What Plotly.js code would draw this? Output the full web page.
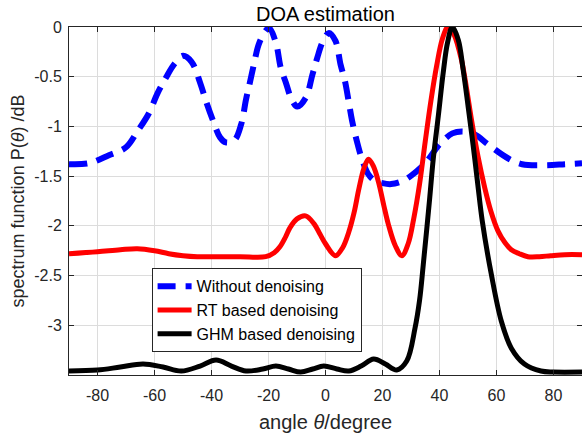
<!DOCTYPE html>
<html>
<head>
<meta charset="utf-8">
<script src="https://cdn.plot.ly/plotly-3.0.1.min.js"></script>
<style>html,body{margin:0;padding:0;background:#fff;}#chart{width:582px;height:436px;}</style>
</head>
<body>
<div id="chart"></div>
<script>
// Without denoising (blue dashed)
const blueX = [-90,-83,-76,-70,-66,-62,-59,-56,-53,-50,-47,-44,-42,-39.5,-37,-35,-32,-29.6,-27.9,-26.7,-25,-23.5,-21.5,-19.8,-17.4,-15.7,-13.9,-12,-9.9,-6.9,-4.6,-2.9,-1,1.2,3.5,5.3,6.8,8.2,9.3,11.1,12.8,15,17,20,23,27,30.3,35,40,44.5,48,52.4,57,64,69,77,84,90];
const blueY = [-1.38,-1.37,-1.29,-1.21,-1.05,-0.87,-0.67,-0.51,-0.37,-0.29,-0.35,-0.56,-0.74,-0.94,-1.11,-1.16,-1.14,-0.98,-0.73,-0.58,-0.36,-0.18,-0.06,-0.01,-0.16,-0.41,-0.56,-0.72,-0.80,-0.71,-0.48,-0.31,-0.15,-0.06,-0.14,-0.38,-0.54,-0.76,-0.94,-1.16,-1.33,-1.48,-1.54,-1.57,-1.58,-1.55,-1.49,-1.37,-1.18,-1.07,-1.05,-1.08,-1.18,-1.32,-1.38,-1.39,-1.38,-1.37];
// RT based denoising (red)
const redX = [-90,-80,-72,-66,-60,-55,-50,-45,-40,-30,-21,-18,-16,-14,-12.5,-10,-7,-4,-2,0,3.5,6,8.2,10,11.7,13.5,15.1,16.8,18.6,20.5,22.1,24.5,26.8,29,31,33,35,37,39,41,43,45,47.7,49.5,51.2,53.5,55.9,58,60.5,63,65.2,68,71,75,79,84,90];
const redY = [-2.28,-2.26,-2.24,-2.23,-2.25,-2.28,-2.30,-2.31,-2.31,-2.31,-2.31,-2.27,-2.21,-2.11,-2.02,-1.93,-1.90,-1.98,-2.08,-2.18,-2.30,-2.22,-2.06,-1.87,-1.63,-1.42,-1.33,-1.40,-1.56,-1.80,-1.99,-2.20,-2.30,-2.18,-1.92,-1.58,-1.15,-0.74,-0.39,-0.12,0,-0.07,-0.33,-0.62,-0.93,-1.30,-1.62,-1.85,-2.05,-2.17,-2.24,-2.28,-2.31,-2.31,-2.30,-2.29,-2.29];
// GHM based denoising (black)
const blackX = [-90,-80,-72,-64,-57,-50.6,-44,-38.4,-33,-27.9,-22,-17.4,-13,-8.7,-4.5,-0.6,4,8.2,12.5,16.9,21,25,28.5,31.4,33,34.3,36.5,37.8,39.6,41.3,42.8,44.5,46.6,48.3,50,51.8,53.5,55,58.2,61.7,65.2,69.8,75.6,80,90];
const blackY = [-3.46,-3.45,-3.42,-3.39,-3.42,-3.46,-3.41,-3.35,-3.41,-3.46,-3.44,-3.41,-3.44,-3.47,-3.44,-3.41,-3.44,-3.46,-3.41,-3.34,-3.39,-3.45,-3.36,-3.03,-2.75,-2.39,-1.74,-1.33,-0.89,-0.46,-0.16,0,-0.13,-0.43,-0.79,-1.19,-1.60,-1.95,-2.49,-2.96,-3.23,-3.39,-3.46,-3.47,-3.47];

const seriesNames = ['Without denoising','RT based denoising','GHM based denoising'];
const xTicks = [-80,-60,-40,-20,0,20,40,60,80];
const xTickText = ['-80','-60','-40','-20','0','20','40','60','80'];
const yTicks = [0,-0.5,-1,-1.5,-2,-2.5,-3];
const yTickText = ['0','-0.5','-1','-1.5','-2','-2.5','-3'];

const font = 'Liberation Sans, Arial, Helvetica, sans-serif';
const traces = [
  {x: blueX, y: blueY, name: seriesNames[0], mode: 'lines', line: {color: '#0000ff', width: 6, dash: '18px,10px', shape: 'spline', smoothing: 1}},
  {x: redX, y: redY, name: seriesNames[1], mode: 'lines', line: {color: '#ff0000', width: 5, shape: 'spline', smoothing: 1}},
  {x: blackX, y: blackY, name: seriesNames[2], mode: 'lines', line: {color: '#000000', width: 5, shape: 'spline', smoothing: 1}}
];
const axisCommon = {
  showline: true, mirror: 'ticks', linecolor: '#262626', linewidth: 1,
  ticks: 'inside', ticklen: 5, tickcolor: '#262626',
  showgrid: true, gridcolor: '#dcdcdc', gridwidth: 1, zeroline: false,
  tickfont: {family: font, size: 16, color: '#262626'}
};
const layout = {
  width: 582, height: 436,
  margin: {l: 69, r: 0, t: 27, b: 61},
  paper_bgcolor: '#fff', plot_bgcolor: '#fff',
  font: {family: font, color: '#262626'},
  title: {text: 'DOA estimation', font: {family: font, size: 20, color: '#000'}, xref: 'paper', x: 0.5, xanchor: 'center', yref: 'container', y: 0.968, yanchor: 'middle'},
  xaxis: Object.assign({}, axisCommon, {range: [-90, 90], tickvals: xTicks, ticktext: xTickText, ticklabelstandoff: 6,
    title: {text: 'angle <i>θ</i>/degree', font: {family: font, size: 20, color: '#262626'}, standoff: 11}}),
  yaxis: Object.assign({}, axisCommon, {range: [-3.5, 0], tickvals: yTicks, ticktext: yTickText, ticklabelstandoff: 3,
    title: {text: 'spectrum function P(<i>θ</i>) /dB', font: {family: font, size: 18, color: '#262626'}, standoff: 4}}),
  showlegend: true,
  legend: {x: 0.161, y: 0.3066, xanchor: 'left', yanchor: 'top', bgcolor: '#fff', bordercolor: '#262626', borderwidth: 1,
    font: {family: font, size: 16, color: '#000'}, itemwidth: 34}
};
Plotly.newPlot('chart', traces, layout, {displayModeBar: false, staticPlot: true});
</script>
</body>
</html>
